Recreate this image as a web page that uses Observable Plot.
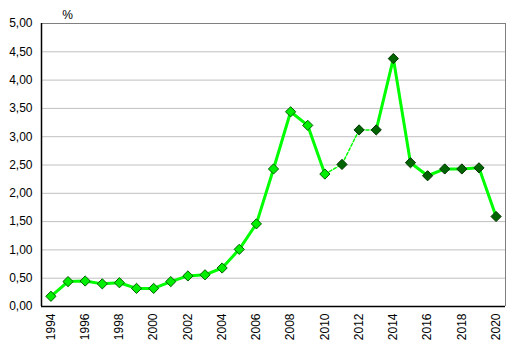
<!DOCTYPE html>
<html>
<head>
<meta charset="utf-8">
<script src="https://cdn.jsdelivr.net/npm/d3@7"></script>
<script src="https://cdn.jsdelivr.net/npm/@observablehq/plot@0.6"></script>
<style>
  html, body { margin: 0; padding: 0; background: #fff; }
  svg { font-family: "Liberation Sans", Arial, sans-serif; }
</style>
</head>
<body>
<div id="chart"></div>
<script>
const years = d3.range(1994, 2021);
const values = [0.18, 0.44, 0.45, 0.40, 0.42, 0.32, 0.32, 0.44, 0.54, 0.56, 0.68, 1.01, 1.46,
                2.43, 3.44, 3.20, 2.34, 2.51, 3.12, 3.12, 4.38, 2.54, 2.31, 2.43, 2.43, 2.45, 1.59];
const lastLightYear = 2010;
const dashedFrom = 2010, dashedTo = 2013;
const xTicks = d3.range(1994, 2021, 2);
const yTicks = d3.range(0, 5.01, 0.5);
const unitLabel = ["%"];

const data = years.map((y, i) => ({year: y, value: values[i]}));
const solidA = data.filter(d => d.year <= dashedFrom);
const dashed = data.filter(d => d.year >= dashedFrom && d.year <= dashedTo);
const solidB = data.filter(d => d.year >= dashedTo);
const xDomain = [years[0] - 0.55, years[years.length - 1] + 0.55];
const fmt = v => v.toFixed(2).replace(".", ",");

const chart = Plot.plot({
  width: 518,
  height: 355,
  marginLeft: 41,
  marginRight: 13,
  marginTop: 23,
  marginBottom: 49,
  style: {fontSize: "12px", fontFamily: "Liberation Sans, Arial, sans-serif", background: "#fff", color: "#000"},
  x: {domain: xDomain, ticks: xTicks, tickFormat: d => String(d), tickRotate: -90, tickSize: 0, tickPadding: 7, label: null},
  y: {domain: [0, 5], ticks: yTicks, tickFormat: fmt, tickSize: 0, tickPadding: 9, label: null},
  marks: [
    Plot.gridY(yTicks, {stroke: "#c0c0c0", strokeOpacity: 1}),
    Plot.ruleY([5], {stroke: "#808080"}),
    Plot.ruleX([xDomain[1]], {stroke: "#808080"}),
    Plot.ruleY([0], {stroke: "#000", strokeWidth: 1.5}),
    Plot.ruleX([xDomain[0]], {stroke: "#000", strokeWidth: 1.5}),
    Plot.line(solidA, {x: "year", y: "value", stroke: "#00ff00", strokeWidth: 3, strokeLinejoin: "round"}),
    Plot.line(solidB, {x: "year", y: "value", stroke: "#00ff00", strokeWidth: 3, strokeLinejoin: "round"}),
    Plot.line(dashed, {x: "year", y: "value", stroke: "#00ff00", strokeWidth: 1.5, strokeDasharray: "3,2"}),
    Plot.dot(data, {x: "year", y: "value", symbol: "diamond2", r: 4.6,
      fill: d => d.year <= lastLightYear ? "#00ee00" : "#006400",
      stroke: d => d.year <= lastLightYear ? "#006000" : "#003300",
      strokeWidth: 1}),
    Plot.text(unitLabel, {frameAnchor: "top-left", dx: 26, dy: -8, lineAnchor: "middle", textAnchor: "middle", fontSize: 12, fill: "#000"})
  ]
});
document.getElementById("chart").appendChild(chart);
</script>
</body>
</html>
